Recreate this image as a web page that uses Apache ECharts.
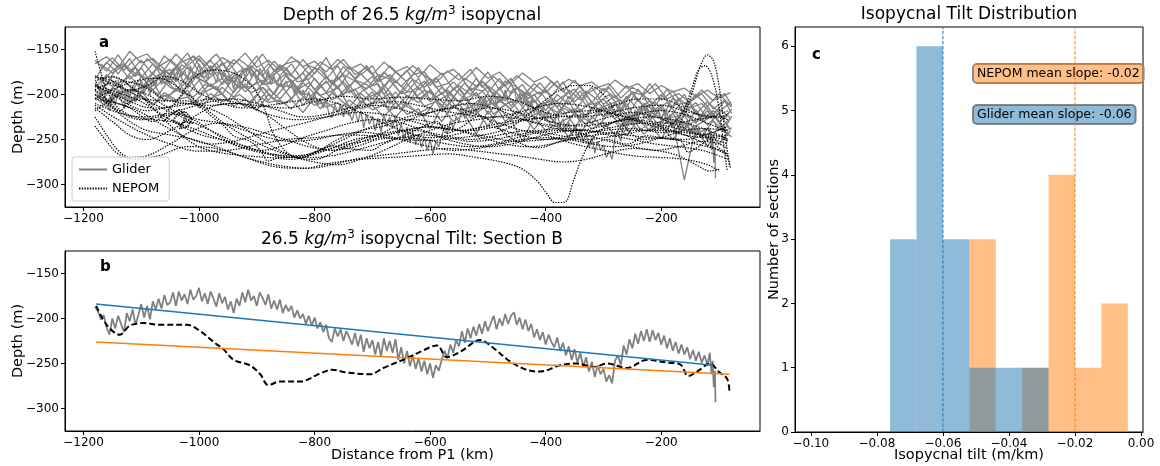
<!DOCTYPE html>
<html><head><meta charset="utf-8">
<script src="https://cdn.jsdelivr.net/npm/echarts@6/dist/echarts.min.js"></script>
<style>html,body{margin:0;padding:0;background:#fff}#c{width:1160px;height:466px}</style>
</head><body><div id="c"></div>
<script>
// ---------------- tick labels ----------------
const X_TICKS = [-1200, -1000, -800, -600, -400, -200];
const DEPTH_TICKS = [-300, -250, -200, -150];
const TILT_TICKS = [-0.10, -0.08, -0.06, -0.04, -0.02, 0.00];
const COUNT_TICKS = [0, 1, 2, 3, 4, 5, 6];

// ---------------- panel a: glider sections (distance grids, depths) ----------------
const A_DIST = [-1180,-1160,-1140,-1120,-1100,-1080,-1060,-1040,-1020,-1000,-980,-960,-940,-920,-900,-880,-860,-840,-820,-800,-780,-760,-740,-720,-700,-680,-660,-640,-620,-600,-580,-560,-540,-520,-500,-480,-460,-440,-420,-400,-380,-360,-340,-320,-300,-280,-260,-240,-220,-200,-180,-160,-140,-120,-100,-80];
const A_DIST_2 = [-1170,-1150,-1130,-1110,-1090,-1070,-1050,-1030,-1010,-990,-970,-950,-930,-910,-890,-870,-850,-830,-810,-790,-770,-750,-730,-710,-690,-670,-650,-630,-610,-590,-570,-550,-530,-510,-490,-470,-450,-430,-410,-390,-370,-350,-330,-310,-290,-270,-250,-230,-210,-190,-170,-150,-130,-110,-90,-78];
const GLIDER_1 = [-162,-174,-156,-175,-162,-178,-157,-169,-154,-175,-162,-178,-161,-173,-157,-181,-167,-178,-161,-177,-159,-183,-169,-178,-168,-191,-175,-186,-170,-190,-176,-194,-182,-191,-175,-195,-182,-202,-188,-198,-185,-205,-190,-209,-193,-204,-190,-208,-188,-206,-196,-214,-200,-213,-199,-213];
const GLIDER_2 = [-183,-164,-177,-160,-181,-166,-183,-169,-181,-160,-178,-165,-186,-171,-181,-166,-179,-166,-186,-171,-183,-168,-191,-177,-190,-175,-187,-173,-195,-182,-200,-186,-200,-182,-198,-182,-199,-189,-209,-195,-214,-195,-206,-192,-211,-201,-214,-194,-213,-200,-214,-200,-222,-208,-220,-208];
const GLIDER_3 = [-179,-190,-167,-183,-170,-191,-172,-185,-169,-181,-168,-189,-176,-193,-172,-188,-169,-187,-176,-195,-180,-194,-175,-191,-180,-200,-185,-197,-182,-206,-192,-203,-187,-202,-191,-209,-189,-209,-200,-218,-200,-211,-196,-217,-205,-220,-202,-217,-207,-226,-204,-220,-209,-227,-216,-226];
const GLIDER_4 = [-193,-178,-192,-179,-194,-177,-188,-171,-193,-176,-191,-182,-198,-181,-196,-178,-191,-184,-200,-182,-198,-180,-198,-191,-205,-189,-205,-187,-205,-196,-214,-193,-205,-198,-214,-192,-213,-199,-218,-210,-224,-202,-218,-208,-225,-211,-225,-205,-222,-211,-233,-218,-232,-213,-231,-218];
const GLIDER_5 = [-188,-199,-187,-201,-180,-195,-182,-196,-179,-200,-188,-200,-181,-197,-186,-207,-188,-205,-187,-199,-185,-203,-189,-209,-197,-213,-197,-212,-192,-208,-198,-215,-204,-220,-199,-216,-207,-224,-206,-222,-209,-226,-216,-233,-212,-227,-210,-232,-222,-237,-221,-237,-217,-234,-221,-239];
const GLIDER_6 = [-196,-209,-190,-205,-199,-186,-208,-193,-201,-184,-206,-192,-203,-188,-210,-194,-205,-190,-212,-197,-206,-191,-214,-199,-210,-193,-216,-201,-209,-195,-219,-204,-212,-198,-222,-207,-216,-203,-227,-211,-220,-207,-231,-214,-224,-210,-234,-218,-229,-215,-237,-222,-231,-218,-240,-226];
const GLIDER_7 = [-203,-214,-198,-210,-196,-212,-201,-208,-195,-215,-204,-199,-213,-205,-218,-200,-211,-206,-220,-203,-214,-209,-223,-207,-217,-211,-226,-210,-221,-214,-230,-212,-224,-218,-235,-216,-228,-222,-239,-221,-233,-226,-243,-225,-236,-230,-246,-228,-240,-234,-250,-232,-244,-238,-255,-240];
const GLIDER_8 = [-166,-158,-170,-152,-165,-160,-172,-155,-168,-157,-171,-159,-166,-154,-170,-162,-173,-158,-169,-163,-175,-161,-172,-166,-178,-164,-175,-169,-181,-167,-178,-172,-184,-170,-182,-175,-188,-176,-186,-180,-192,-183,-190,-186,-196,-184,-193,-188,-199,-190,-197,-193,-202,-195,-204,-198];
const GLIDER_9 = [-200,-210,-196,-207,-201,-212,-198,-206,-203,-211,-199,-208,-204,-214,-200,-209,-206,-216,-203,-212,-208,-219,-206,-216,-212,-225,-209,-222,-216,-238,-214,-230,-222,-244,-218,-236,-228,-252,-225,-240,-232,-247,-228,-238,-231,-245,-226,-240,-233,-249,-229,-295,-236,-258,-235,-246];
const GLIDER_10 = [-171,-159,-173,-160,-155,-169,-161,-173,-157,-167,-155,-173,-161,-171,-155,-174,-166,-162,-177,-164,-172,-161,-178,-170,-185,-168,-180,-168,-179,-187,-174,-184,-172,-192,-180,-191,-179,-190,-200,-185,-197,-184,-200,-192,-188,-204,-192,-200,-188,-205,-199,-209,-195,-207,-199,-212];
const GLIDER_11 = [-166,-176,-168,-180,-160,-172,-177,-164,-158,-176,-171,-163,-181,-168,-179,-163,-176,-183,-168,-173,-188,-169,-182,-168,-186,-178,-191,-178,-175,-192,-188,-177,-196,-185,-201,-185,-192,-201,-187,-202,-186,-208,-196,-206,-192,-211,-197,-201,-212,-194,-211,-208,-199,-216,-206,-214];
const GLIDER_12 = [-188,-173,-166,-177,-182,-169,-187,-167,-175,-181,-165,-185,-174,-171,-188,-177,-170,-186,-183,-169,-189,-178,-185,-194,-178,-183,-199,-183,-192,-181,-200,-190,-200,-186,-195,-207,-192,-204,-197,-212,-202,-194,-212,-209,-200,-216,-198,-214,-209,-222,-204,-215,-210,-223,-207,-221];
const GLIDER_13 = [-180,-191,-184,-170,-187,-178,-172,-191,-178,-186,-175,-182,-192,-172,-189,-187,-177,-193,-176,-190,-184,-200,-184,-189,-200,-184,-199,-196,-185,-203,-195,-208,-193,-196,-212,-201,-209,-197,-215,-204,-212,-219,-201,-216,-211,-206,-225,-210,-219,-209,-224,-209,-229,-218,-227,-216];
const GLIDER_14 = [-197,-180,-185,-197,-186,-180,-192,-198,-180,-186,-195,-179,-193,-191,-184,-200,-179,-195,-187,-201,-196,-186,-202,-193,-188,-211,-197,-206,-195,-202,-213,-194,-210,-214,-200,-211,-206,-222,-211,-207,-222,-216,-225,-208,-223,-215,-229,-214,-223,-229,-213,-233,-224,-221,-238,-224];
const GLIDER_15 = [-189,-198,-204,-187,-191,-200,-182,-197,-203,-189,-193,-207,-186,-198,-192,-205,-190,-195,-209,-189,-206,-199,-194,-212,-207,-199,-216,-195,-213,-208,-201,-218,-214,-203,-222,-211,-223,-207,-223,-231,-215,-221,-233,-219,-216,-229,-233,-216,-237,-226,-224,-239,-231,-223,-240,-237];
const GLIDER_16 = [-208,-193,-198,-208,-188,-203,-200,-192,-210,-197,-191,-207,-200,-210,-192,-206,-210,-198,-200,-216,-198,-209,-217,-204,-198,-218,-210,-217,-224,-206,-217,-211,-226,-216,-209,-230,-219,-226,-219,-234,-238,-221,-228,-235,-221,-234,-226,-244,-232,-227,-243,-233,-247,-229,-242,-247];

// ---------------- panel b: section B (distance, depth) ----------------
const GLIDER_B = [[-1180,-187],[-1175,-192],[-1170,-201],[-1165,-196],[-1160,-210],[-1155,-218],[-1150,-200],[-1145,-211],[-1140,-197],[-1135,-206],[-1130,-215],[-1125,-194],[-1120,-203],[-1115,-190],[-1110,-207],[-1105,-196],[-1100,-184],[-1095,-199],[-1090,-186],[-1085,-201],[-1080,-181],[-1075,-190],[-1070,-178],[-1065,-189],[-1060,-174],[-1055,-185],[-1050,-182],[-1045,-171],[-1040,-186],[-1035,-170],[-1030,-180],[-1025,-173],[-1020,-184],[-1015,-168],[-1010,-179],[-1005,-175],[-1000,-166],[-995,-181],[-990,-172],[-985,-184],[-980,-170],[-975,-178],[-970,-187],[-965,-172],[-960,-183],[-955,-176],[-950,-190],[-945,-181],[-940,-194],[-935,-178],[-930,-186],[-925,-171],[-920,-182],[-915,-168],[-910,-180],[-905,-175],[-900,-186],[-895,-171],[-890,-177],[-885,-185],[-880,-173],[-875,-189],[-870,-180],[-865,-190],[-860,-179],[-855,-194],[-850,-185],[-845,-192],[-840,-186],[-835,-199],[-830,-191],[-825,-200],[-820,-195],[-815,-206],[-810,-197],[-805,-208],[-800,-199],[-795,-211],[-790,-204],[-785,-215],[-780,-207],[-775,-222],[-770,-226],[-765,-211],[-760,-220],[-755,-212],[-750,-225],[-745,-214],[-740,-221],[-735,-229],[-730,-216],[-725,-231],[-720,-218],[-715,-237],[-710,-222],[-705,-233],[-700,-224],[-695,-240],[-690,-226],[-685,-242],[-680,-222],[-675,-236],[-670,-225],[-665,-238],[-660,-223],[-655,-246],[-650,-232],[-645,-250],[-640,-236],[-635,-253],[-630,-241],[-625,-256],[-620,-244],[-615,-259],[-610,-247],[-605,-262],[-600,-250],[-595,-266],[-590,-252],[-585,-258],[-580,-246],[-575,-236],[-570,-244],[-565,-229],[-560,-238],[-555,-224],[-550,-231],[-545,-214],[-540,-227],[-535,-211],[-530,-222],[-525,-209],[-520,-219],[-515,-206],[-510,-217],[-505,-203],[-500,-214],[-495,-205],[-490,-197],[-485,-212],[-480,-200],[-475,-208],[-470,-195],[-465,-206],[-460,-197],[-455,-193],[-450,-207],[-445,-199],[-440,-212],[-435,-201],[-430,-214],[-425,-206],[-420,-221],[-415,-212],[-410,-224],[-405,-215],[-400,-229],[-395,-218],[-390,-226],[-385,-232],[-380,-221],[-375,-236],[-370,-227],[-365,-241],[-360,-231],[-355,-246],[-350,-234],[-345,-249],[-340,-238],[-335,-254],[-330,-243],[-325,-259],[-320,-248],[-315,-265],[-310,-252],[-305,-262],[-300,-256],[-295,-270],[-290,-263],[-285,-272],[-280,-247],[-275,-241],[-270,-252],[-265,-230],[-260,-240],[-255,-223],[-250,-233],[-245,-217],[-240,-228],[-235,-214],[-230,-225],[-225,-212],[-220,-226],[-215,-213],[-210,-224],[-205,-216],[-200,-229],[-195,-219],[-190,-233],[-185,-222],[-180,-236],[-175,-226],[-170,-239],[-165,-229],[-160,-240],[-155,-232],[-150,-245],[-145,-235],[-140,-247],[-135,-237],[-130,-249],[-125,-241],[-120,-252],[-116,-238],[-113,-262],[-111,-247],[-109,-276],[-107,-258],[-106,-293]];
const NEPOM_B = [[-1178,-186],[-1160,-207],[-1137,-218],[-1120,-208],[-1096,-205],[-1068,-207],[-1021,-207],[-998,-214],[-975,-226],[-958,-234],[-940,-246],[-912,-252],[-894,-262],[-880,-274],[-860,-270],[-825,-270],[-790,-261],[-770,-257],[-744,-260],[-704,-262],[-681,-255],[-640,-244],[-617,-237],[-588,-230],[-571,-243],[-548,-237],[-513,-224],[-490,-233],[-461,-248],[-433,-257],[-410,-259],[-375,-252],[-346,-250],[-317,-254],[-294,-250],[-259,-255],[-225,-246],[-190,-249],[-167,-251],[-153,-264],[-138,-259],[-115,-250],[-101,-259],[-86,-267],[-82,-280]];
const GLIDER_FIT = [[-1178,-184],[-110,-252]];
const NEPOM_FIT = [[-1178,-226],[-82,-262]];

// ---------------- panel a: NEPOM sections ----------------
const NEPOM_1 = [[-1180,-200],[-1150,-208],[-1120,-215],[-1080,-230],[-1050,-215],[-1030,-200],[-1010,-182],[-980,-173],[-940,-176],[-910,-190],[-890,-210],[-870,-245],[-840,-268],[-800,-272],[-750,-258],[-700,-246],[-650,-240],[-600,-236],[-550,-240],[-500,-236],[-450,-244],[-400,-250],[-350,-248],[-300,-244],[-250,-240],[-200,-240],[-150,-243],[-100,-246],[-85,-250]];
const NEPOM_2 = [[-1180,-235],[-1160,-252],[-1140,-266],[-1110,-272],[-1070,-268],[-1020,-258],[-970,-260],[-920,-270],[-870,-280],[-820,-282],[-770,-276],[-720,-272],[-670,-270],[-620,-268],[-570,-266],[-520,-270],[-470,-276],[-440,-283],[-415,-296],[-398,-310],[-384,-320],[-368,-320],[-352,-296],[-338,-272],[-320,-250],[-295,-235],[-260,-228],[-220,-232],[-180,-240],[-140,-250],[-100,-262],[-85,-266]];
const NEPOM_3 = [[-1180,-212],[-1140,-228],[-1100,-242],[-1050,-255],[-1000,-263],[-950,-262],[-900,-256],[-850,-250],[-800,-248],[-750,-245],[-700,-246],[-650,-250],[-600,-251],[-550,-248],[-500,-244],[-460,-236],[-430,-222],[-400,-206],[-375,-195],[-350,-190],[-325,-190],[-300,-200],[-280,-218],[-260,-238],[-230,-250],[-200,-248],[-160,-250],[-120,-244],[-85,-236]];
const NEPOM_4 = [[-1180,-190],[-1140,-198],[-1100,-208],[-1050,-228],[-1000,-244],[-950,-252],[-900,-262],[-850,-270],[-800,-265],[-750,-256],[-700,-250],[-650,-241],[-600,-236],[-550,-240],[-500,-247],[-450,-252],[-400,-250],[-350,-245],[-300,-240],[-250,-238],[-200,-242],[-178,-240],[-160,-222],[-145,-195],[-132,-168],[-120,-156],[-110,-162],[-100,-190],[-92,-230],[-85,-265],[-80,-282]];
const NEPOM_5 = [[-1180,-180],[-1130,-194],[-1080,-210],[-1030,-225],[-980,-240],[-930,-255],[-880,-265],[-830,-270],[-780,-262],[-730,-250],[-680,-245],[-630,-240],[-580,-245],[-530,-250],[-480,-245],[-430,-240],[-380,-245],[-330,-250],[-280,-246],[-230,-240],[-190,-236],[-165,-222],[-148,-195],[-135,-172],[-124,-168],[-112,-180],[-100,-215],[-92,-255],[-86,-284]];
const NEPOM_6 = [[-1180,-195],[-1140,-185],[-1100,-190],[-1060,-205],[-1020,-210],[-980,-212],[-940,-210],[-900,-212],[-850,-215],[-800,-208],[-750,-202],[-700,-205],[-650,-203],[-600,-205],[-550,-207],[-500,-202],[-450,-207],[-400,-220],[-350,-225],[-300,-222],[-250,-215],[-200,-212],[-150,-220],[-100,-225],[-85,-222]];
const NEPOM_7 = [[-1180,-185],[-1150,-180],[-1120,-190],[-1080,-215],[-1040,-240],[-1000,-258],[-960,-265],[-920,-268],[-880,-270],[-840,-272],[-800,-265],[-760,-250],[-720,-240],[-680,-235],[-640,-225],[-600,-220],[-560,-215],[-520,-222],[-480,-232],[-440,-240],[-400,-245],[-350,-255],[-300,-262],[-250,-268],[-200,-270],[-160,-272],[-120,-278],[-100,-285]];
const NEPOM_8 = [[-1180,-205],[-1150,-195],[-1110,-185],[-1070,-182],[-1030,-195],[-990,-215],[-950,-235],[-910,-250],[-870,-262],[-830,-268],[-790,-262],[-750,-250],[-710,-238],[-670,-230],[-630,-228],[-590,-232],[-550,-240],[-510,-248],[-470,-255],[-430,-258],[-390,-255],[-350,-248],[-310,-240],[-270,-235],[-230,-232],[-190,-235],[-150,-242],[-110,-250],[-85,-255]];
const NEPOM_9 = [[-1180,-215],[-1150,-230],[-1120,-245],[-1090,-250],[-1050,-240],[-1010,-225],[-970,-212],[-930,-210],[-890,-220],[-850,-238],[-810,-255],[-770,-262],[-730,-255],[-690,-245],[-650,-232],[-610,-222],[-570,-215],[-530,-210],[-490,-215],[-450,-225],[-410,-232],[-370,-235],[-330,-232],[-290,-225],[-250,-220],[-210,-225],[-170,-235],[-130,-245],[-90,-250],[-85,-252]];
const NEPOM_10 = [[-1180,-225],[-1160,-245],[-1140,-262],[-1120,-270],[-1090,-268],[-1050,-255],[-1010,-240],[-970,-232],[-930,-235],[-890,-242],[-850,-250],[-810,-258],[-770,-262],[-730,-258],[-690,-250],[-650,-248],[-610,-250],[-570,-255],[-530,-258],[-490,-255],[-450,-248],[-410,-242],[-370,-240],[-330,-245],[-290,-252],[-250,-258],[-210,-262],[-170,-258],[-130,-252],[-100,-255],[-85,-260]];
const NEPOM_11 = [[-1180,-190],[-1150,-200],[-1120,-212],[-1090,-218],[-1060,-215],[-1030,-210],[-1000,-212],[-960,-222],[-920,-238],[-880,-255],[-840,-268],[-800,-275],[-760,-278],[-720,-272],[-680,-262],[-640,-250],[-600,-240],[-560,-232],[-520,-228],[-480,-225],[-440,-228],[-400,-235],[-360,-240],[-320,-238],[-280,-230],[-240,-222],[-200,-218],[-160,-222],[-120,-232],[-90,-240],[-85,-242]];
const NEPOM_12 = [[-1180,-180],[-1150,-185],[-1120,-195],[-1090,-190],[-1060,-180],[-1030,-185],[-1000,-198],[-960,-210],[-920,-215],[-880,-212],[-840,-208],[-800,-205],[-760,-210],[-720,-220],[-680,-232],[-640,-242],[-600,-248],[-560,-245],[-520,-238],[-480,-232],[-440,-228],[-400,-225],[-360,-220],[-320,-218],[-280,-222],[-240,-230],[-200,-238],[-160,-245],[-120,-248],[-85,-245]];
const NEPOM_13 = [[-1180,-200],[-1150,-215],[-1120,-230],[-1090,-240],[-1050,-245],[-1010,-250],[-970,-258],[-930,-268],[-890,-275],[-850,-280],[-810,-282],[-770,-278],[-730,-272],[-690,-268],[-650,-265],[-610,-262],[-570,-260],[-530,-262],[-490,-265],[-450,-268],[-410,-272],[-370,-275],[-330,-272],[-290,-265],[-250,-260],[-210,-262],[-170,-268],[-140,-278],[-115,-285],[-100,-283]];
const NEPOM_14 = [[-1180,-210],[-1140,-220],[-1100,-225],[-1060,-222],[-1020,-215],[-980,-208],[-940,-205],[-900,-210],[-860,-218],[-820,-225],[-780,-222],[-740,-215],[-700,-210],[-660,-208],[-620,-212],[-580,-218],[-540,-222],[-500,-225],[-460,-222],[-420,-215],[-380,-210],[-340,-212],[-300,-218],[-260,-225],[-220,-230],[-180,-232],[-140,-228],[-100,-225],[-85,-228]];
const NEPOM_15 = [[-1180,-195],[-1160,-205],[-1140,-218],[-1120,-225],[-1100,-228],[-1070,-225],[-1040,-222],[-1010,-228],[-980,-240],[-950,-252],[-920,-260],[-890,-262],[-860,-258],[-820,-248],[-780,-240],[-740,-232],[-700,-228],[-660,-230],[-620,-238],[-580,-248],[-540,-255],[-500,-258],[-460,-255],[-420,-248],[-380,-242],[-340,-240],[-300,-242],[-260,-245],[-220,-248],[-180,-250],[-140,-255],[-100,-262],[-85,-268]];
const NEPOM_16 = [[-1180,-218],[-1150,-205],[-1120,-195],[-1090,-200],[-1060,-212],[-1030,-222],[-1000,-228],[-960,-232],[-920,-240],[-880,-248],[-840,-252],[-800,-250],[-760,-245],[-720,-242],[-680,-245],[-640,-252],[-600,-258],[-560,-262],[-520,-260],[-480,-255],[-440,-250],[-400,-248],[-360,-250],[-320,-255],[-280,-258],[-240,-255],[-200,-248],[-160,-240],[-120,-238],[-85,-240]];
const NEPOM_17 = [[-1180,-205],[-1140,-210],[-1100,-220],[-1060,-235],[-1020,-248],[-980,-255],[-940,-252],[-900,-245],[-860,-238],[-820,-232],[-780,-225],[-740,-218],[-700,-212],[-660,-215],[-620,-222],[-580,-225],[-540,-220],[-500,-215],[-460,-218],[-420,-225],[-380,-232],[-340,-235],[-300,-232],[-260,-228],[-220,-225],[-180,-228],[-140,-235],[-100,-245],[-85,-250]];
const NEPOM_18 = [[-1180,-152],[-1170,-175],[-1160,-195],[-1140,-215],[-1110,-225],[-1080,-228],[-1050,-230],[-1010,-238],[-970,-248],[-930,-258],[-890,-265],[-850,-268],[-810,-270],[-770,-268],[-730,-262],[-690,-255],[-650,-248],[-610,-245],[-570,-248],[-530,-252],[-490,-250],[-450,-245],[-410,-240],[-370,-238],[-330,-240],[-290,-245],[-250,-250],[-210,-255],[-170,-258],[-130,-262],[-100,-268],[-85,-272]];
const NEPOM_19 = [[-1180,-190],[-1130,-205],[-1080,-215],[-1030,-212],[-980,-205],[-930,-210],[-880,-222],[-830,-228],[-780,-225],[-730,-220],[-680,-222],[-630,-230],[-580,-238],[-530,-240],[-480,-235],[-430,-228],[-380,-225],[-330,-222],[-280,-212],[-240,-205],[-200,-205],[-160,-215],[-120,-225],[-85,-218]];
const NEPOM_KNOT = [[-1062,-230],[-1048,-222],[-1034,-217],[-1022,-224],[-1030,-233],[-1045,-229],[-1036,-221],[-1024,-219],[-1012,-227],[-1020,-236],[-1034,-238],[-1026,-230],[-1010,-232]];

// ---------------- panel c: histogram ----------------
const BIN_EDGES = [-0.076,-0.068,-0.060,-0.052,-0.044,-0.036,-0.028,-0.020,-0.012,-0.004];
const GLIDER_COUNTS = [3,6,3,1,1,1,0,0,0];
const NEPOM_COUNTS = [0,0,0,3,0,1,4,1,2];
const GLIDER_MEAN = -0.06;
const NEPOM_MEAN = -0.02;

// ---------------- build ----------------
const FONT = 'DejaVu Sans';
const BLUE = '#1f77b4', ORANGE = '#ff7f0e';
const minus = v => String(v).replace('-', '\u2212');
const tiltFmt = v => (v < 0 ? '\u2212' : '') + Math.abs(v).toFixed(2);

function lineS(gi, name, data, style, extra) {
  return Object.assign({
    type: 'line', name, xAxisIndex: gi, yAxisIndex: gi, data,
    symbol: 'none', showSymbol: false, silent: true, animation: false,
    lineStyle: style, itemStyle: { color: style.color }, emphasis: { disabled: true }
  }, extra || {});
}

const series = [];
const gliderStyle = { color: '#808080', width: 1.3 };
[GLIDER_1, GLIDER_2, GLIDER_3, GLIDER_4, GLIDER_5, GLIDER_6, GLIDER_7, GLIDER_8, GLIDER_9].forEach(v => {
  series.push(lineS(0, 'Glider', v.map((d, i) => [A_DIST[i], d]), gliderStyle));
});
[GLIDER_10, GLIDER_11, GLIDER_12, GLIDER_13, GLIDER_14, GLIDER_15, GLIDER_16].forEach(v => {
  series.push(lineS(0, 'Glider', v.map((d, i) => [A_DIST_2[i], d]), gliderStyle));
});
series.push(lineS(0, 'Glider', GLIDER_B, gliderStyle));
const nepomStyle = { color: '#000', width: 1.2, type: [1.4, 1.3] };
[NEPOM_1, NEPOM_2, NEPOM_3, NEPOM_4, NEPOM_5, NEPOM_6, NEPOM_7, NEPOM_8, NEPOM_9, NEPOM_10,
 NEPOM_11, NEPOM_12, NEPOM_13, NEPOM_14, NEPOM_15, NEPOM_16, NEPOM_17, NEPOM_18, NEPOM_19, NEPOM_B].forEach(v => {
  series.push(lineS(0, 'NEPOM', v, nepomStyle, { smooth: 0.35 }));
});
series.push(lineS(0, 'NEPOM', NEPOM_KNOT, { color: '#000', width: 1.6, type: [1.4, 1.0] }));

// panel b
series.push(lineS(1, 'glider-b', GLIDER_B, { color: '#808080', width: 1.8 }));
series.push(lineS(1, 'nepom-b', NEPOM_B, { color: '#000', width: 2, type: [6, 3] }, { smooth: 0.35 }));
series.push(lineS(1, 'glider-fit', GLIDER_FIT, { color: BLUE, width: 1.5 }));
series.push(lineS(1, 'nepom-fit', NEPOM_FIT, { color: ORANGE, width: 1.5 }));

// panel c
function histSeries(name, counts, color) {
  const data = [];
  counts.forEach((c, i) => { if (c > 0) data.push([BIN_EDGES[i], BIN_EDGES[i + 1], c]); });
  return {
    type: 'custom', name, xAxisIndex: 2, yAxisIndex: 2, data, silent: true, animation: false,
    encode: { x: [0, 1], y: 2 },
    renderItem: (params, api) => {
      const p0 = api.coord([api.value(0), 0]);
      const p1 = api.coord([api.value(1), api.value(2)]);
      return { type: 'rect', shape: { x: p0[0], y: p1[1], width: p1[0] - p0[0], height: p0[1] - p1[1] }, style: { fill: color } };
    }
  };
}
const Y_MAX_C = 6.3;
series.push(histSeries('nepom-hist', NEPOM_COUNTS, 'rgba(255,127,14,0.5)'));
series.push(histSeries('glider-hist', GLIDER_COUNTS, 'rgba(31,119,180,0.5)'));
series.push(lineS(2, 'glider-mean', [[GLIDER_MEAN, 0], [GLIDER_MEAN, Y_MAX_C]], { color: BLUE, width: 1, type: [3.5, 1.6] }));
series.push(lineS(2, 'nepom-mean', [[NEPOM_MEAN, 0], [NEPOM_MEAN, Y_MAX_C]], { color: ORANGE, width: 1, type: [3.5, 1.6] }));

const tickStyle = { show: true, length: 4, lineStyle: { color: '#000', width: 1 } };
const labStyle = { color: '#000', fontSize: 12, fontFamily: FONT };
const nameStyle = { color: '#000', fontSize: 14.5, fontFamily: FONT };

function ax(gi, min, max, ticks, fmt, name, gap) {
  return {
    gridIndex: gi, type: 'value', min, max,
    name: name || '', nameLocation: 'middle', nameGap: gap || 20, nameTextStyle: nameStyle,
    nameMoveOverlap: false,
    axisLine: { show: true, onZero: false, lineStyle: { color: '#000', width: 1 } },
    splitLine: { show: false },
    axisTick: Object.assign({ customValues: ticks }, tickStyle),
    axisLabel: Object.assign({ customValues: ticks, formatter: fmt, margin: 6 }, labStyle)
  };
}

const titleRich = {
  n: { fontFamily: FONT, fontSize: 17, fontWeight: 'normal', color: '#000', lineHeight: 22 },
  i: { fontFamily: FONT, fontSize: 17, fontWeight: 'normal', fontStyle: 'italic', color: '#000', lineHeight: 22 },
  s: { fontFamily: FONT, fontSize: 12, fontWeight: 'normal', color: '#000', lineHeight: 13, verticalAlign: 'top' }
};
const gridBase = { show: true, borderColor: '#000', borderWidth: 1, backgroundColor: 'transparent', containLabel: false, outerBoundsMode: 'none' };

const option = {
  animation: false,
  backgroundColor: '#fff',
  textStyle: { fontFamily: FONT },
  title: [
    { text: '{n|Depth of 26.5 }{i|kg/m}{s|3}{n| isopycnal}', left: 412, top: 5, textAlign: 'center', padding: 0, textStyle: { fontWeight: 'normal', rich: titleRich } },
    { text: '{n|26.5 }{i|kg/m}{s|3}{n| isopycnal Tilt: Section B}', left: 412, top: 229, textAlign: 'center', padding: 0, textStyle: { fontWeight: 'normal', rich: titleRich } },
    { text: 'Isopycnal Tilt Distribution', left: 969, top: 6, textAlign: 'center', padding: 0, textStyle: { fontFamily: FONT, fontSize: 17, fontWeight: 'normal', color: '#000' } }
  ],
  grid: [
    Object.assign({ left: 65, top: 27, width: 695, height: 180 }, gridBase),
    Object.assign({ left: 65, top: 251, width: 695, height: 180 }, gridBase),
    Object.assign({ left: 795, top: 27, width: 348, height: 405 }, gridBase)
  ],
  xAxis: [
    ax(0, -1232, -29, X_TICKS, minus),
    ax(1, -1232, -29, X_TICKS, minus, 'Distance from P1 (km)', 17),
    ax(2, -0.1048, 0.0006, TILT_TICKS, tiltFmt, 'Isopycnal tilt (m/km)', 16)
  ],
  yAxis: [
    ax(0, -325, -125, DEPTH_TICKS, minus, 'Depth (m)', 39),
    ax(1, -325, -125, DEPTH_TICKS, minus, 'Depth (m)', 39),
    ax(2, 0, Y_MAX_C, COUNT_TICKS, v => String(v), 'Number of sections', 13)
  ],
  legend: {
    data: ['Glider', 'NEPOM'], orient: 'vertical', left: 72, top: 157,
    padding: [6, 10, 6, 6], itemGap: 6, itemWidth: 28, itemHeight: 12,
    borderColor: '#cccccc', borderWidth: 1, borderRadius: 3, backgroundColor: 'rgba(255,255,255,0.8)',
    itemStyle: { opacity: 0 },
    textStyle: { fontFamily: FONT, fontSize: 13, color: '#000' }, selectedMode: false
  },
  graphic: [
    { type: 'text', left: 99, top: 36, style: { text: 'a', font: 'bold 15px "DejaVu Sans"', fill: '#000' } },
    { type: 'text', left: 100, top: 260, style: { text: 'b', font: 'bold 15px "DejaVu Sans"', fill: '#000' } },
    { type: 'text', left: 812, top: 48, style: { text: 'c', font: 'bold 15px "DejaVu Sans"', fill: '#000' } },
    { type: 'text', left: 972, top: 63, z: 100, style: { text: 'NEPOM mean slope: ' + NEPOM_MEAN.toFixed(2), font: '12.5px "DejaVu Sans"', fill: '#000', backgroundColor: 'rgba(255,127,14,0.5)', borderColor: '#888', borderWidth: 1, borderRadius: 4, padding: [3, 4, 3, 4] } },
    { type: 'text', left: 972, top: 104, z: 100, style: { text: 'Glider mean slope: ' + GLIDER_MEAN.toFixed(2), font: '12.5px "DejaVu Sans"', fill: '#000', backgroundColor: 'rgba(31,119,180,0.5)', borderColor: '#888', borderWidth: 1, borderRadius: 4, padding: [3, 4, 3, 4] } }
  ],
  series
};

const chart = echarts.init(document.getElementById('c'), null, { renderer: 'canvas' });
chart.setOption(option);
</script>
</body></html>
